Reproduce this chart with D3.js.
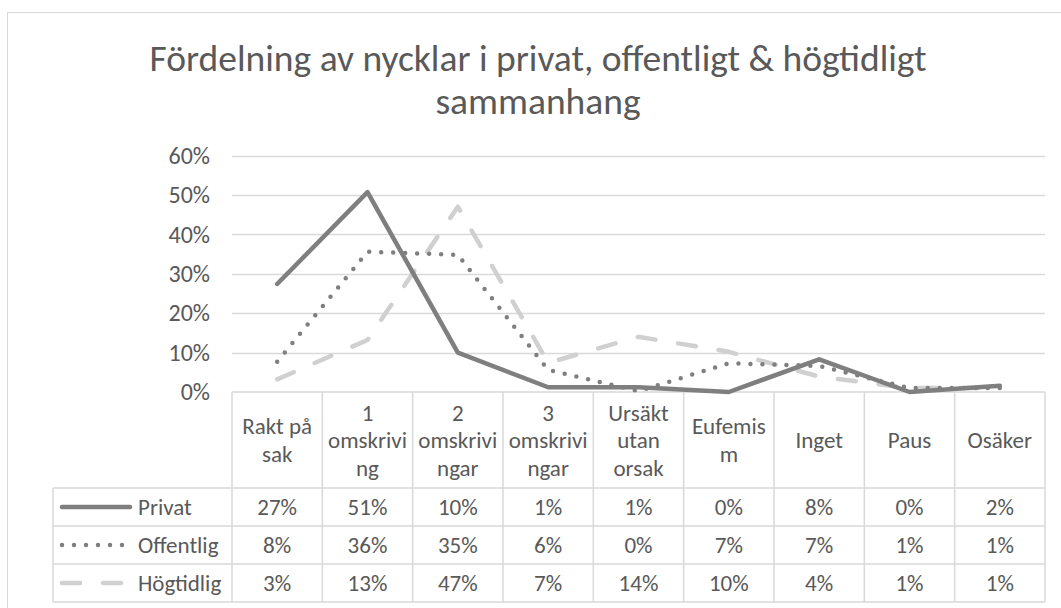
<!DOCTYPE html>
<html>
<head>
<meta charset="utf-8">
<script src="https://cdn.jsdelivr.net/npm/d3@7"></script>
<style>
  body { margin: 0; background: #fff; }
  svg text { font-family: Calibri, Carlito, Lato, sans-serif; fill: #595959; }
</style>
</head>
<body>
<div id="vis_1"></div>
<script>
// data
var categories = [
    ["Rakt på", "sak"],
    ["1", "omskrivi", "ng"],
    ["2", "omskrivi", "ngar"],
    ["3", "omskrivi", "ngar"],
    ["Ursäkt", "utan", "orsak"],
    ["Eufemis", "m"],
    ["Inget"],
    ["Paus"],
    ["Osäker"]
];
var seriesNames = ["Privat", "Offentlig", "Högtidlig"];
var privat    = [0.274, 0.507, 0.100, 0.012, 0.012, 0.000, 0.083, 0.000, 0.016];
var offentlig = [0.077, 0.356, 0.348, 0.056, 0.002, 0.073, 0.066, 0.010, 0.010];
var hogtidlig = [0.032, 0.132, 0.470, 0.074, 0.140, 0.102, 0.039, 0.010, 0.010];
var yTicks = [0, 0.1, 0.2, 0.3, 0.4, 0.5, 0.6];
var titleLines = ["Fördelning av nycklar i privat, offentligt & högtidligt", "sammanhang"];

var W = 1061, H = 608;
var plot = {left: 232, right: 1045, top: 155.5, bottom: 392};
var legendLeft = 53;
var headerBottom = 488, rowH = 38;
var gridColor = "#d9d9d9";
var fontSize = "23px";

var svg = d3.select("#vis_1")
    .append("svg")
    .attr("width", W)
    .attr("height", H);

svg.append("rect").attr("width", W).attr("height", H).attr("fill", "#fff");

// chart frame
svg.append("rect")
    .attr("x", 7.5).attr("y", 12.5)
    .attr("width", 1080).attr("height", 620)
    .attr("fill", "none")
    .attr("stroke", gridColor);

// title
svg.append("g").selectAll("text")
    .data(titleLines)
    .enter().append("text")
    .attr("x", 538)
    .attr("y", function (d, i) { return 71 + i * 43; })
    .attr("text-anchor", "middle")
    .style("font-size", "37.5px")
    .text(function (d) { return d; });

var x = d3.scaleBand()
    .domain(d3.range(categories.length))
    .range([plot.left, plot.right]);

var y = d3.scaleLinear()
    .domain([0, 0.6])
    .range([plot.bottom, plot.top]);

// gridlines
svg.append("g").selectAll("line")
    .data(yTicks.slice(1))
    .enter().append("line")
    .attr("x1", plot.left).attr("x2", plot.right)
    .attr("y1", function (d) { return Math.round(y(d)) + 0.5; })
    .attr("y2", function (d) { return Math.round(y(d)) + 0.5; })
    .attr("stroke", gridColor)
    .attr("stroke-width", 1.5);

// y axis labels
var yAxis = svg.append("g")
    .attr("transform", "translate(" + (plot.left - 22) + ",0)")
    .call(d3.axisLeft(y).tickValues(yTicks).tickFormat(d3.format(".0%")).tickSize(0).tickPadding(0));
yAxis.select(".domain").remove();
yAxis.selectAll("text")
    .style("font-size", "24px")
    .style("font-family", null)
    .attr("fill", null);

// data table grid
var table = svg.append("g").attr("stroke", gridColor).attr("stroke-width", 1.5);
var colEdges = d3.range(categories.length).map(function (i) { return x(i); }).concat([plot.right]);
table.selectAll(".vline")
    .data(colEdges)
    .enter().append("line")
    .attr("x1", function (d) { return d; }).attr("x2", function (d) { return d; })
    .attr("y1", plot.bottom).attr("y2", headerBottom + rowH * 3);
table.append("line")
    .attr("x1", legendLeft).attr("x2", legendLeft)
    .attr("y1", headerBottom).attr("y2", headerBottom + rowH * 3);
table.append("line")
    .attr("x1", plot.left).attr("x2", plot.right)
    .attr("y1", plot.bottom).attr("y2", plot.bottom);
table.selectAll(".hline")
    .data(d3.range(4))
    .enter().append("line")
    .attr("x1", legendLeft).attr("x2", plot.right)
    .attr("y1", function (i) { return headerBottom + i * rowH; })
    .attr("y2", function (i) { return headerBottom + i * rowH; });

// category headers
var headerMid = (plot.bottom + headerBottom) / 2;
var header = svg.append("g").selectAll("text")
    .data(categories)
    .enter().append("text")
    .attr("text-anchor", "middle")
    .style("font-size", fontSize)
    .attr("x", function (d, i) { return x(i) + x.bandwidth() / 2; });
header.selectAll("tspan")
    .data(function (d) { return d.map(function (t, j) { return {t: t, j: j, n: d.length}; }); })
    .enter().append("tspan")
    .attr("x", function () { return d3.select(this.parentNode).attr("x"); })
    .attr("y", function (d) { return headerMid + (d.j - (d.n - 1) / 2) * 27.5; })
    .attr("dy", "0.35em")
    .text(function (d) { return d.t; });

// series
var series = [
    {name: seriesNames[0], values: privat,    color: "#7f7f7f", dash: null},
    {name: seriesNames[1], values: offentlig, color: "#7f7f7f", dash: "0,12"},
    {name: seriesNames[2], values: hogtidlig, color: "#d0d0d0", dash: "18,23"}
];

var line = d3.line()
    .x(function (d, i) { return x(i) + x.bandwidth() / 2; })
    .y(function (d) { return y(d); });

svg.append("g").selectAll("path")
    .data(series.slice().reverse())
    .enter().append("path")
    .attr("d", function (d) { return line(d.values); })
    .attr("fill", "none")
    .attr("stroke", function (d) { return d.color; })
    .attr("stroke-width", 4.5)
    .attr("stroke-linejoin", "round")
    .attr("stroke-linecap", "round")
    .attr("stroke-dasharray", function (d) { return d.dash; });

// table rows: legend key + values
var fmt = d3.format(".0%");
var rows = svg.append("g").selectAll("g")
    .data(series)
    .enter().append("g")
    .attr("transform", function (d, i) { return "translate(0," + (headerBottom + i * rowH + rowH / 2) + ")"; });

rows.append("line")
    .attr("x1", 62).attr("x2", 130)
    .attr("stroke", function (d) { return d.color; })
    .attr("stroke-width", 4.5)
    .attr("stroke-linecap", "round")
    .attr("stroke-dasharray", function (d) { return d.dash; });

rows.append("text")
    .attr("x", 138)
    .attr("dy", "0.35em")
    .style("font-size", fontSize)
    .text(function (d) { return d.name; });

rows.selectAll(".val")
    .data(function (d) { return d.values; })
    .enter().append("text")
    .attr("x", function (d, i) { return x(i) + x.bandwidth() / 2; })
    .attr("dy", "0.35em")
    .attr("text-anchor", "middle")
    .style("font-size", fontSize)
    .text(function (d) { return fmt(d); });
</script>
</body>
</html>
